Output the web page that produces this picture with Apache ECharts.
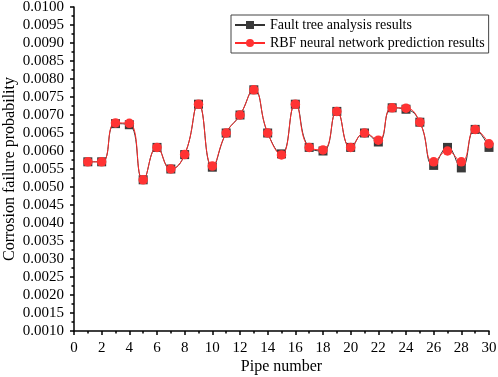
<!DOCTYPE html>
<html>
<head>
<meta charset="utf-8">
<script src="https://cdn.jsdelivr.net/npm/echarts@6/dist/echarts.min.js"></script>
<style>
  html, body { margin: 0; padding: 0; background: #fff; }
  #chart { width: 498px; height: 377px; }
</style>
</head>
<body>
<div id="chart"></div>
<script>
var pipes = [1, 2, 3, 4, 5, 6, 7, 8, 9, 10, 11, 12, 13, 14, 15, 16, 17, 18, 19, 20, 21, 22, 23, 24, 25, 26, 27, 28, 29, 30];

var faultTree = [0.0057, 0.0057, 0.00676, 0.00673, 0.0052, 0.0061, 0.0055, 0.0059, 0.0073, 0.00555,
  0.0065, 0.0070, 0.0077, 0.0065, 0.00592, 0.0073, 0.0061, 0.0060, 0.0071, 0.0061,
  0.0065, 0.00625, 0.0072, 0.00716, 0.0068, 0.0056, 0.0061, 0.00553, 0.0066, 0.0061];

var rbfPred = [0.0057, 0.0057, 0.00678, 0.00677, 0.0052, 0.0061, 0.0055, 0.0059, 0.0073, 0.00558,
  0.0065, 0.0070, 0.0077, 0.0065, 0.00589, 0.0073, 0.0061, 0.00603, 0.0071, 0.0061,
  0.0065, 0.0063, 0.0072, 0.00719, 0.0068, 0.0057, 0.0060, 0.0057, 0.0066, 0.0062];

var seriesNames = ["Fault tree analysis results", "RBF neural network prediction results"];

function pairs(vals) {
  return pipes.map(function (p, i) { return [p, vals[i]]; });
}

var font = "'Liberation Serif', 'Times New Roman', serif";
var chart = echarts.init(document.getElementById("chart"), null, { renderer: "canvas" });

chart.setOption({
  backgroundColor: "#ffffff",
  animation: false,
  textStyle: { fontFamily: font, color: "#000" },
  grid: { left: 74, right: 9, top: 7, bottom: 46, containLabel: false, outerBoundsMode: "none" },
  legend: {
    orient: "vertical",
    left: 231,
    top: 15,
    padding: [3, 4, 3, 3],
    itemGap: 4,
    itemWidth: 30,
    itemHeight: 10,
    borderColor: "#444",
    borderWidth: 1,
    borderRadius: 0,
    backgroundColor: "#fff",
    textStyle: { fontFamily: font, fontSize: 14, color: "#000", padding: [0, 0, 0, 0] },
    data: seriesNames
  },
  xAxis: {
    type: "value",
    min: 0,
    max: 30,
    interval: 2,
    name: "Pipe number",
    nameLocation: "middle",
    nameGap: 28,
    nameMoveOverlap: false,
    nameTextStyle: { fontFamily: font, fontSize: 16, color: "#000" },
    axisLine: { lineStyle: { color: "#000", width: 1.5 } },
    axisTick: { inside: false, length: 4, lineStyle: { color: "#000", width: 1.5 } },
    minorTick: { show: true, splitNumber: 2, length: 2.5, lineStyle: { color: "#000", width: 1.5 } },
    axisLabel: { fontFamily: font, fontSize: 15, color: "#000", margin: 10 },
    splitLine: { show: false }
  },
  yAxis: {
    type: "value",
    min: 0.001,
    max: 0.010,
    interval: 0.0005,
    name: "Corrosion failure probability",
    nameLocation: "middle",
    nameGap: 56,
    nameMoveOverlap: false,
    nameTextStyle: { fontFamily: font, fontSize: 16, color: "#000" },
    axisLine: { show: true, lineStyle: { color: "#000", width: 1.5 } },
    axisTick: { show: true, inside: false, length: 4, lineStyle: { color: "#000", width: 1.5 } },
    minorTick: { show: true, splitNumber: 2, length: 2.5, lineStyle: { color: "#000", width: 1.5 } },
    axisLabel: {
      fontFamily: font, fontSize: 15, color: "#000", margin: 10,
      formatter: function (v) { return v.toFixed(4); }
    },
    splitLine: { show: false }
  },
  series: [
    {
      name: seriesNames[0],
      type: "line",
      smooth: 0.5,
      smoothConstraint: false,
      data: pairs(faultTree),
      symbol: "rect",
      symbolSize: 9,
      itemStyle: { color: "#3a3a3a" },
      lineStyle: { color: "#333", width: 1 },
      z: 2
    },
    {
      name: seriesNames[1],
      type: "line",
      smooth: 0.5,
      smoothConstraint: false,
      data: pairs(rbfPred),
      symbol: "circle",
      symbolSize: 9.5,
      itemStyle: { color: "#ff3333" },
      lineStyle: { color: "#ff2a2a", width: 1 },
      z: 3
    }
  ]
});
</script>
</body>
</html>
